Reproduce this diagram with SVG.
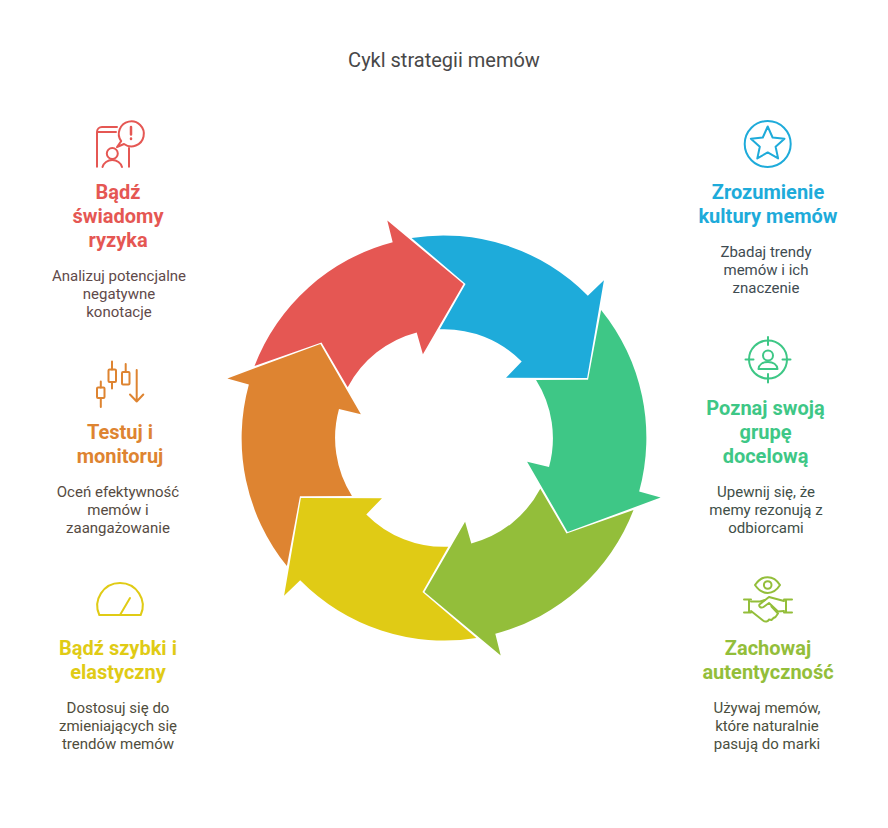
<svg xmlns="http://www.w3.org/2000/svg" width="888" height="828" viewBox="0 0 888 828">
<style>
text{font-family:Roboto,"Noto Sans",sans-serif;text-anchor:middle}
.t{font-size:20px;fill:#484848}
.h{font-size:20px;font-weight:700}
.d{font-size:15px}
.i{fill:none;stroke-width:2;stroke-linecap:round;stroke-linejoin:round}
.red{fill:#e55753}.blue{fill:#1eabda}.green{fill:#3ec786}.olive{fill:#93be3a}.yellow{fill:#e0cb15}.orange{fill:#de8431}
.dred{fill:#5f4a4a}.dblue{fill:#3f4c52}.dgreen{fill:#3f4f48}.dolive{fill:#4a4f3e}.dyellow{fill:#504d3c}.dorange{fill:#564b42}
.sred{stroke:#e55753}.sblue{stroke:#1eabda}.sgreen{stroke:#3ec786}.solive{stroke:#93be3a}.syellow{stroke:#e0cb15}.sorange{stroke:#de8431}
</style>
<defs>
<path id="arrow" d="M254.500 366L321.500 342.400L347.700 387.300A109 109 0 0 1 416.700 332.500L422.900 354.200L463.500 284L387.300 220.600L392.700 242.300A203 203 0 0 0 254.500 366Z"/>
</defs>
<rect width="888" height="828" fill="#fff"/>
<text id="title" class="t" x="444" y="67">Cykl strategii memów</text>
<g id="connectors">
<use href="#arrow" class="red"/>
<use href="#arrow" class="blue" transform="rotate(60 444 438)"/>
<use href="#arrow" class="green" transform="rotate(120 444 438)"/>
<use href="#arrow" class="olive" transform="rotate(180 444 438)"/>
<use href="#arrow" class="yellow" transform="rotate(240 444 438)"/>
<use href="#arrow" class="orange" transform="rotate(300 444 438)"/>
</g>
<g id="node-ryzyko">
<g class="i sred">
<path d="M97 166.700V132a5 5 0 0 1 5-5h15M97 132h19M129 148V166.700"/>
<path d="M117 147L121.200 141.200A12.500 12.500 0 1 1 124 144Z"/>
<path d="M131 127V134.500M131 138.500V139" stroke-width="2.500"/>
<circle cx="112.300" cy="153.500" r="5.500"/>
<path d="M102.500 167A10 9 0 0 1 122 167"/>
</g>
<text class="h red" x="118" y="199">Bądź</text>
<text class="h red" x="118" y="223">świadomy</text>
<text class="h red" x="118" y="247">ryzyka</text>
<text class="d dred" x="119" y="281">Analizuj potencjalne</text>
<text class="d dred" x="119" y="299">negatywne</text>
<text class="d dred" x="119" y="317">konotacje</text>
</g>
<g id="node-testuj">
<g class="i sorange">
<rect x="97" y="387.500" width="7.500" height="10.500" rx="1"/><path d="M100.800 381.500V387.500M100.800 398V407"/>
<rect x="108.500" y="369.500" width="7.500" height="12.500" rx="1"/><path d="M112 361.500V369.500M112 382V388.500"/>
<rect x="122" y="372" width="7.500" height="12.500" rx="1"/><path d="M125.700 364V372"/>
<path d="M136.700 370V401.500M130 394.500L136.700 401.500L143.300 394.500"/>
</g>
<text class="h orange" x="120" y="439">Testuj i</text>
<text class="h orange" x="120" y="463">monitoruj</text>
<text class="d dorange" x="118" y="497">Oceń efektywność</text>
<text class="d dorange" x="118" y="515">memów i</text>
<text class="d dorange" x="118" y="533">zaangażowanie</text>
</g>
<g id="node-szybki">
<g class="i syellow">
<path d="M99.300 615H140.700A22.700 22.700 0 1 0 99.300 615Z"/>
<path d="M120 615L130 598"/>
</g>
<text class="h yellow" x="118" y="655">Bądź szybki i</text>
<text class="h yellow" x="118" y="679">elastyczny</text>
<text class="d dyellow" x="118" y="713">Dostosuj się do</text>
<text class="d dyellow" x="118" y="731">zmieniających się</text>
<text class="d dyellow" x="118" y="749">trendów memów</text>
</g>
<g id="node-kultura">
<g class="i sblue">
<circle cx="767.700" cy="144" r="23"/>
<path d="M767.700 126.500L772.600 137.500L784.500 138.700L775.600 146.700L778.100 158.400L767.700 152.400L757.300 158.400L759.800 146.700L750.900 138.700L762.800 137.500Z"/>
</g>
<text class="h blue" x="768" y="199">Zrozumienie</text>
<text class="h blue" x="768" y="223">kultury memów</text>
<text class="d dblue" x="766" y="257">Zbadaj trendy</text>
<text class="d dblue" x="766" y="275">memów i ich</text>
<text class="d dblue" x="766" y="293">znaczenie</text>
</g>
<g id="node-grupa">
<g class="i sgreen">
<circle cx="768" cy="359.500" r="19"/>
<path d="M768 337V345M768 374V382.500M745.500 359.500H753.500M782.500 359.500H790.500"/>
<circle cx="768" cy="355.500" r="5"/>
<path d="M758.500 369H777.500C777 364.500 773 362 768 362C763 362 759 364.500 758.500 369Z"/>
</g>
<text class="h green" x="765.500" y="415">Poznaj swoją</text>
<text class="h green" x="765.500" y="439">grupę</text>
<text class="h green" x="765.500" y="463">docelową</text>
<text class="d dgreen" x="766" y="497">Upewnij się, że</text>
<text class="d dgreen" x="766" y="515">memy rezonują z</text>
<text class="d dgreen" x="766" y="533">odbiorcami</text>
</g>
<g id="node-autentycznosc">
<g class="i solive">
<path d="M755 585C762 574.500 773.500 574.500 780 585C773.500 595.500 762 595.500 755 585Z"/>
<circle cx="767.700" cy="585" r="3.800"/>
<path d="M744 599.500H751M749 599.500V612.500M744 612.500H751M784 599.500H792M786 599.500V612.500M784 612.500H792"/>
<path d="M751 601.500H760L765 600"/>
<path d="M784 601L769 597L759.500 604.500C758.500 606.500 761 608.500 763.500 607L769 603L778 611.500L784 611"/>
<path d="M751 611L763 620.500C765.500 622.500 768 621.500 769 619.500L771.500 620L773.500 618L775.500 617L778 613.500L771.500 606.500"/>
</g>
<text class="h olive" x="768" y="655">Zachowaj</text>
<text class="h olive" x="768" y="679">autentyczność</text>
<text class="d dolive" x="767" y="713">Używaj memów,</text>
<text class="d dolive" x="767" y="731">które naturalnie</text>
<text class="d dolive" x="767" y="749">pasują do marki</text>
</g>
</svg>
